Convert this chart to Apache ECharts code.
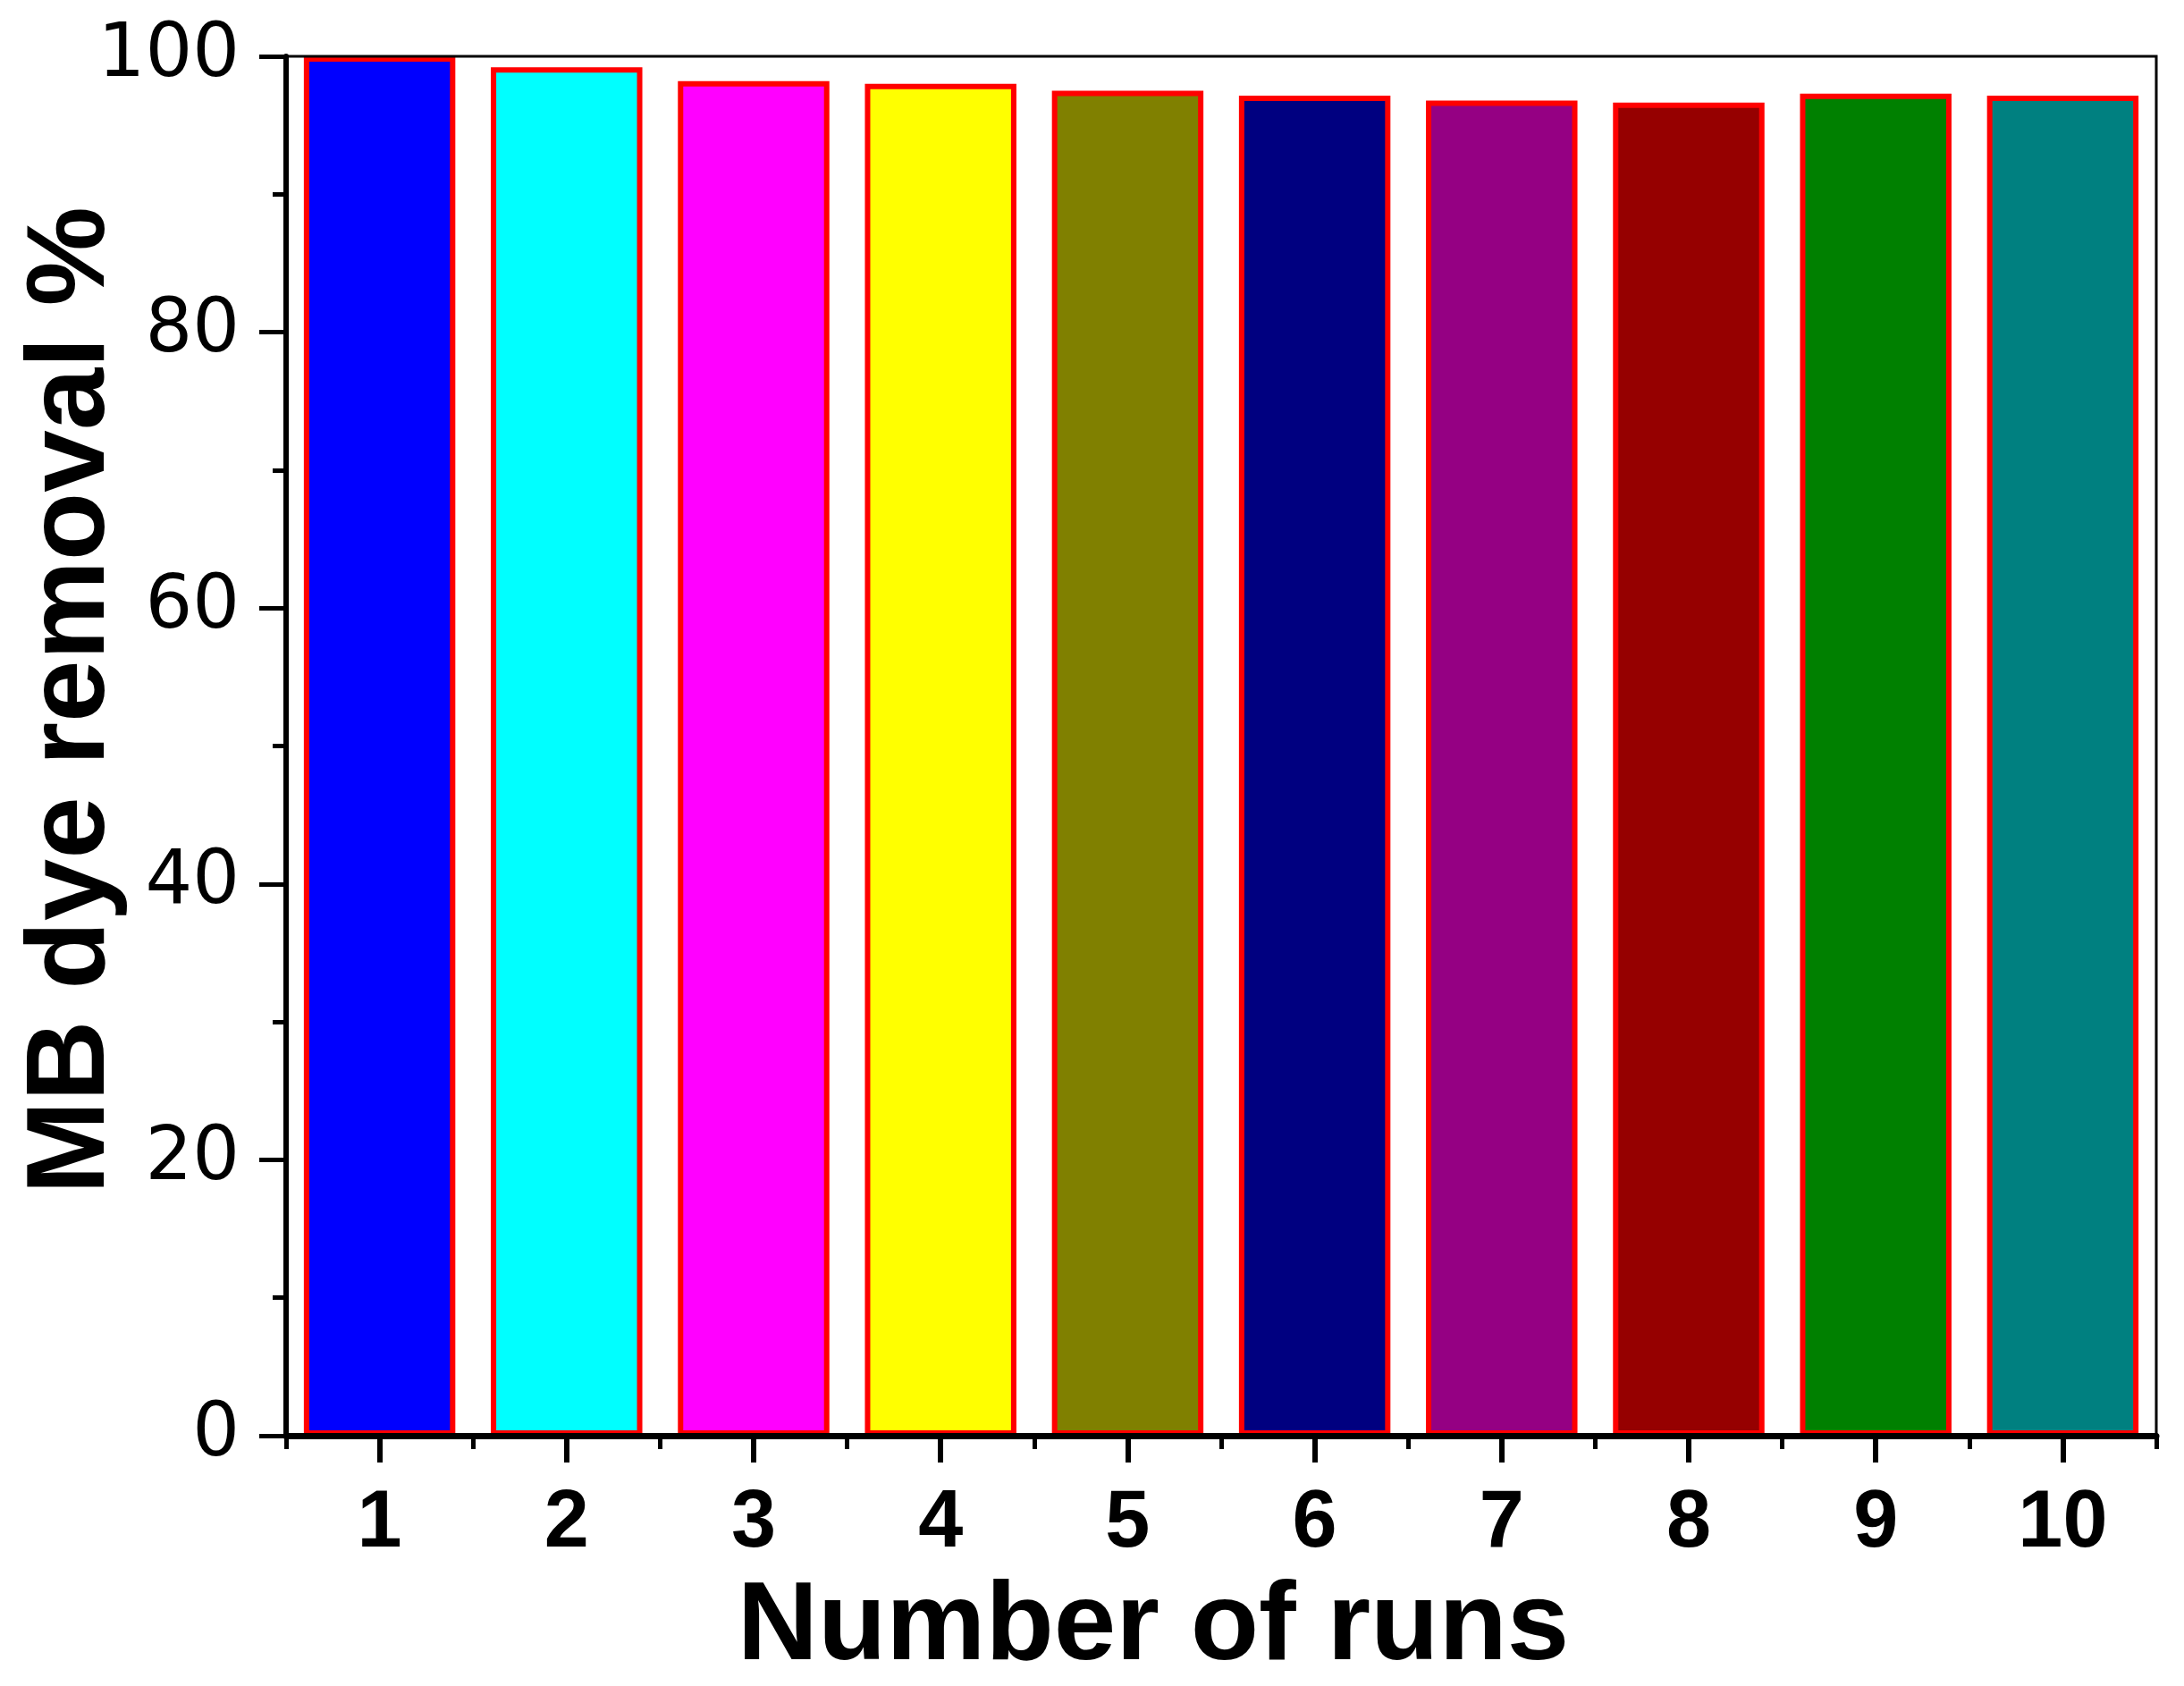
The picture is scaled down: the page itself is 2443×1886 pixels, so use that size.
<!DOCTYPE html>
<html>
<head>
<meta charset="utf-8">
<script src="https://cdn.jsdelivr.net/npm/echarts@6/dist/echarts.min.js"></script>
<style>
html,body{margin:0;padding:0;background:#fff;}
#chart{width:2443px;height:1886px;}
</style>
</head>
<body>
<div id="chart"></div>
<script>
var categories = ['1','2','3','4','5','6','7','8','9','10'];
var removal = [100, 99.2, 98.2, 98.0, 97.5, 97.15, 96.8, 96.65, 97.3, 97.15];
var barColors = ['#0000FF','#00FFFF','#FF00FF','#FFFF00','#808000','#000080','#950083','#960000','#008000','#008080'];
var yTicks = [0, 20, 40, 60, 80, 100];

var chart = echarts.init(document.getElementById('chart'), null, {renderer:'canvas'});
var font = 'Liberation Sans, Arial, sans-serif';
chart.setOption({
  animation: false,
  backgroundColor: '#fff',
  grid: {left: 320, right: 31, top: 63, bottom: 280, outerBoundsMode: 'none', containLabel: false,
    show: true, borderColor: '#000', borderWidth: 3, z: 10, backgroundColor: 'transparent'},
  xAxis: [{
    type: 'category', data: categories, position: 'bottom', z: 10,
    axisLine: {show: true, lineStyle: {color: '#000', width: 7}},
    axisTick: {show: true, alignWithLabel: true, length: 30, lineStyle: {color: '#000', width: 6}},
    axisLabel: {color: '#000', fontFamily: font, fontWeight: 'bold', fontSize: 90, margin: 54},
    name: 'Number of runs', nameLocation: 'middle', nameGap: 153, nameMoveOverlap: false,
    nameTextStyle: {color: '#000', fontFamily: font, fontWeight: 'bold', fontSize: 125, padding: [0,152,0,0]}
  },{
    type: 'category', data: categories, position: 'bottom', z: 10,
    axisLine: {show: false},
    axisTick: {show: true, alignWithLabel: false, length: 15, lineStyle: {color: '#000', width: 5}},
    axisLabel: {show: false}
  }],
  yAxis: {
    type: 'value', min: 0, max: 100, interval: 20, z: 10,
    axisLine: {show: true, lineStyle: {color: '#000', width: 6}},
    axisTick: {show: true, length: 30, lineStyle: {color: '#000', width: 5}},
    minorTick: {show: true, splitNumber: 2, length: 15, lineStyle: {color: '#000', width: 5}},
    splitLine: {show: false},
    axisLabel: {color: '#000', fontFamily: 'DejaVu Sans, sans-serif', fontSize: 83, margin: 52,
      formatter: function(v){ return yTicks.indexOf(v) >= 0 ? String(v) : ''; }},
    name: 'MB dye removal %', nameLocation: 'middle', nameGap: 176, nameRotate: 90, nameMoveOverlap: false,
    nameTextStyle: {color: '#000', fontFamily: font, fontWeight: 'bold', fontSize: 125, padding: [0,0,0,102]}
  },
  series: [{
    type: 'bar', xAxisIndex: 0, barWidth: '81%',
    data: removal.map(function(v, i){ return {value: v, itemStyle: {color: barColors[i]}}; }),
    itemStyle: {borderColor: '#FF0000', borderWidth: 6}
  }]
});
</script>
</body>
</html>
